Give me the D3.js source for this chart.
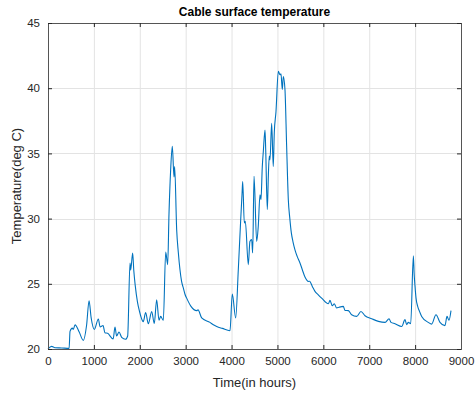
<!DOCTYPE html>
<html><head><meta charset="utf-8">
<script src="https://cdn.jsdelivr.net/npm/d3@7"></script>
<style>body{margin:0;background:#fff;} text{font-family:"Liberation Sans",Arial,sans-serif;}</style>
</head><body><svg id="c" width="475" height="397"></svg>
<script>
const hours = [0,80,150,300,460,480,530,550,590,680,770,840,895,940,1010,1097,1135,1200,1240,1300,1420,1460,1495,1547,1605,1690,1736,1787,1802,1845,1870,1900,1950,1990,2076,2128,2186,2260,2316,2368,2419,2455,2513,2565,2608,2637,2673,2709,2746,2760,2804,2840,2876,2910,2949,2985,3022,3116,3240,3270,3349,3530,3603,3676,3800,3966,4016,4090,4147,4199,4230,4243,4278,4300,4365,4400,4438,4460,4490,4547,4582,4620,4641,4670,4692,4729,4744,4779,4801,4822,4837,4874,4909,4931,4968,5019,5055,5077,5106,5128,5164,5200,5237,5270,5303,5340,5382,5430,5491,5540,5600,5673,5700,5760,5818,5890,5963,6109,6145,6196,6240,6290,6341,6435,6472,6545,6617,6726,6820,6908,7054,7200,7345,7432,7475,7562,7708,7780,7816,7852,7904,7962,7980,7998,8020,8056,8100,8143,8288,8360,8455,8542,8651,8695,8738,8782];
const temps = [20.0,20.2,20.1,20.08,20.05,21.35,21.6,21.5,21.85,21.3,20.66,21.8,23.7,22.4,21.5,22.3,21.7,21.8,21.25,21.2,20.77,21.69,21.0,21.3,20.9,20.75,21.0,26.6,26.05,27.36,26.0,24.9,23.6,22.94,22.1,22.8,21.94,22.88,21.95,23.78,22.2,22.5,22.2,27.44,26.47,30.4,33.75,35.54,33.2,34.0,29.15,27.4,26.08,25.2,24.68,24.2,23.9,23.27,22.94,23.0,22.38,22.04,21.86,21.73,21.58,21.4,24.22,22.38,26.08,29.9,32.0,32.85,29.66,29.8,26.47,28.25,28.4,27.36,33.24,28.25,29.4,31.83,31.45,34.0,35.15,36.8,35.3,30.7,33.2,34.8,34.5,37.3,34.0,36.57,38.2,41.3,41.03,41.1,39.9,40.9,39.9,35.6,31.45,30.0,28.9,28.2,27.6,27.1,26.6,26.1,25.52,25.18,25.2,24.8,24.42,24.15,23.9,23.47,23.73,23.32,23.47,23.14,23.2,23.27,22.96,22.94,22.63,22.5,22.88,22.55,22.32,22.12,22.04,22.32,22.04,21.94,21.73,22.25,21.86,22.04,21.94,27.15,25.7,24.8,23.9,23.27,22.85,22.5,22.04,21.91,22.63,22.04,21.79,22.5,22.2,22.94];
const xTicks = [0,1000,2000,3000,4000,5000,6000,7000,8000,9000];
const yTicks = [20,25,30,35,40,45];

const svg = d3.select("#c");
const L=48,R=461,T=23,B=349;
const x = d3.scaleLinear().domain([0,9000]).range([L,R]);
const y = d3.scaleLinear().domain([20,45]).range([B,T]);
const ink="#262626";

// grid
svg.append("g").selectAll("line.gx").data(xTicks.slice(1,-1)).enter().append("line")
  .attr("x1",d=>x(d)+0.5).attr("x2",d=>x(d)+0.5).attr("y1",T).attr("y2",B)
  .attr("stroke","#e3e3e3").attr("stroke-width",1);
svg.append("g").selectAll("line.gy").data(yTicks.slice(1,-1)).enter().append("line")
  .attr("y1",d=>Math.round(y(d))+0.5).attr("y2",d=>Math.round(y(d))+0.5).attr("x1",L).attr("x2",R)
  .attr("stroke","#e3e3e3").attr("stroke-width",1);

// line
const line = d3.line().x((d,i)=>x(hours[i])).y(d=>y(d)).curve(d3.curveMonotoneX);
svg.append("path").datum(temps).attr("d",line).attr("fill","none")
  .attr("stroke","#0072BD").attr("stroke-width",1.1).attr("stroke-linejoin","round");

// axes
const xb = d3.axisBottom(x).tickValues(xTicks).tickSize(-4).tickPadding(8).tickFormat(d3.format("d"));
const xt = d3.axisTop(x).tickValues(xTicks).tickSize(-4).tickFormat("");
const yl = d3.axisLeft(y).tickValues(yTicks).tickSize(-4).tickPadding(8);
const yr = d3.axisRight(y).tickValues(yTicks).tickSize(-4).tickFormat("");
function style(g){g.selectAll("path,line").attr("stroke",ink);g.selectAll("text").attr("fill",ink).style("font-size","11.5px").style("font-family","'Liberation Sans',Arial,sans-serif");}
svg.append("g").attr("transform",`translate(0,${B})`).call(xb).call(style);
svg.append("g").attr("transform",`translate(0,${T})`).call(xt).call(style);
svg.append("g").attr("transform",`translate(${L},0)`).call(yl).call(style);
svg.append("g").attr("transform",`translate(${R},0)`).call(yr).call(style);
svg.selectAll(".domain").attr("stroke","#555");

svg.append("text").attr("x",(L+R)/2).attr("y",16).attr("text-anchor","middle")
  .style("font-weight","bold").style("font-size","12px").attr("fill","#000").text("Cable surface temperature");
svg.append("text").attr("x",(L+R)/2).attr("y",387).attr("text-anchor","middle")
  .style("font-size","13px").attr("fill",ink).text("Time(in hours)");
svg.append("text").attr("transform",`translate(21,${(T+B)/2}) rotate(-90)`).attr("text-anchor","middle")
  .style("font-size","13px").attr("fill",ink).text("Temperature(deg C)");
</script></body></html>
